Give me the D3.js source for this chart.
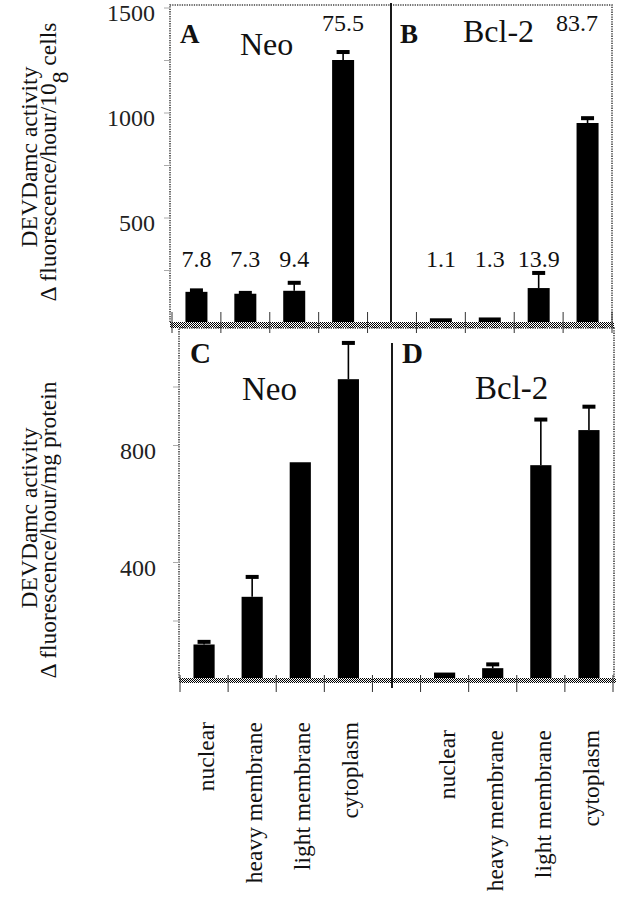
<!DOCTYPE html>
<html>
<head>
<meta charset="utf-8">
<script src="https://cdn.jsdelivr.net/npm/d3@7"></script>
<style>
  body { margin: 0; background: #fff; }
  svg { display: block; font-family: "Liberation Serif", "Times New Roman", serif; }
</style>
</head>
<body>
<svg id="chart" width="618" height="899"></svg>
<script>
// Subcellular fractions, same order in both cell lines
const fractions = ['nuclear', 'heavy membrane', 'light membrane', 'cytoplasm'];
const cellLines = ['Neo', 'Bcl-2'];

// Panels A / B: DEVDamc activity per 10^8 cells (bar top, error bar top)
const perCellNeo = [146, 137, 151, 1250];
const perCellNeoErr = [153, 141, 189, 1288];
const perCellBcl2 = [20, 24, 164, 950];
const perCellBcl2Err = [null, null, 236, 973];
// percent of total activity found in each fraction
const pctNeo = ['7.8', '7.3', '9.4', '75.5'];
const pctBcl2 = ['1.1', '1.3', '13.9', '83.7'];

// Panels C / D: DEVDamc activity per mg protein
const perProtNeo = [118, 281, 741, 1025];
const perProtNeoErr = [127, 349, null, 1149];
const perProtBcl2 = [22, 37, 731, 851];
const perProtBcl2Err = [null, 50, 887, 931];

// y ticks
const topTicks = [250, 500, 750, 1000, 1250, 1500];
const topTickLabels = [500, 1000, 1500];
const bottomTicks = [200, 400, 800, 1000];
const bottomTickLabels = [400, 800];

// 9 slots: 4 Neo fractions, an empty gap, 4 Bcl-2 fractions
const slots = [
  ...fractions.map(f => 'Neo|' + f),
  'gap',
  ...fractions.map(f => 'Bcl-2|' + f)
];

function makeRows(neo, neoErr, bcl, bclErr, neoPct, bclPct) {
  const rows = [];
  fractions.forEach((f, i) => rows.push({ key: 'Neo|' + f, value: neo[i], err: neoErr[i], pct: neoPct ? neoPct[i] : null }));
  fractions.forEach((f, i) => rows.push({ key: 'Bcl-2|' + f, value: bcl[i], err: bclErr[i], pct: bclPct ? bclPct[i] : null }));
  return rows;
}

const svg = d3.select('#chart');

// checker fill for the thick bottom edge of each panel
const pat = svg.append('defs').append('pattern')
  .attr('id', 'checker')
  .attr('width', 2).attr('height', 2)
  .attr('patternUnits', 'userSpaceOnUse');
pat.append('rect').attr('width', 2).attr('height', 2).attr('fill', '#fff');
pat.append('rect').attr('width', 1).attr('height', 1).attr('fill', '#000');
pat.append('rect').attr('x', 1).attr('y', 1).attr('width', 1).attr('height', 1).attr('fill', '#000');

function drawPanel(p) {
  const g = svg.append('g');
  const x = d3.scaleBand().domain(slots).range([p.x0, p.x1]);
  const y = d3.scaleLinear().domain([0, p.yMax]).range([p.zeroY, p.topY]);
  const barW = x.bandwidth() * p.barFrac;
  const cx = d => x(d.key) + x.bandwidth() / 2;

  // dotted frame
  g.append('path')
    .attr('d', `M${p.left},${p.bandY} V${p.top} H${p.right} V${p.bandY}`)
    .attr('fill', 'none')
    .attr('stroke', '#444')
    .attr('stroke-width', 1.6)
    .attr('stroke-dasharray', '1.3,1.1');

  // y axis (faint ticks outside the frame)
  const yAxis = d3.axisLeft(y)
    .tickValues(p.ticks)
    .tickSize(6)
    .tickPadding(p.tickPad)
    .tickFormat(d => p.tickLabels.includes(d) ? d : '');
  const ya = g.append('g').attr('transform', `translate(${p.left},0)`).call(yAxis);
  ya.select('.domain').remove();
  ya.selectAll('line').attr('stroke', '#aaa');
  ya.selectAll('text')
    .attr('font-size', 24)
    .attr('font-family', '"Liberation Serif", serif')
    .attr('fill', '#222')
    .attr('dy', p.tickDy);

  // bars
  g.selectAll(null).data(p.rows).join('rect')
    .attr('x', d => cx(d) - barW / 2)
    .attr('y', d => y(d.value))
    .attr('width', barW)
    .attr('height', d => y(0) - y(d.value))
    .attr('fill', '#000');

  // error bars
  const errRows = p.rows.filter(d => d.err != null);
  g.selectAll(null).data(errRows).join('line')
    .attr('x1', cx).attr('x2', cx)
    .attr('y1', d => y(d.value))
    .attr('y2', d => y(d.err))
    .attr('stroke', '#000')
    .attr('stroke-width', 1.6);
  g.selectAll(null).data(errRows).join('rect')
    .attr('x', d => cx(d) - 6.5)
    .attr('y', d => y(d.err) - 2)
    .attr('width', 13)
    .attr('height', 4)
    .attr('fill', '#000');

  // checkered bottom edge
  g.append('rect')
    .attr('x', p.left)
    .attr('y', p.bandY)
    .attr('width', p.right - p.left + 2)
    .attr('height', p.bandH)
    .attr('fill', 'url(#checker)');

  // x ticks at category boundaries
  const bounds = slots.map(s => x(s)).concat([p.x1]);
  g.selectAll(null).data(bounds).join('line')
    .attr('x1', d => d).attr('x2', d => d)
    .attr('y1', p.xTickTop).attr('y2', p.xTickBottom)
    .attr('stroke', '#333')
    .attr('stroke-width', 1);

  // divider between the two cell lines
  g.append('line')
    .attr('x1', p.divX).attr('x2', p.divX)
    .attr('y1', p.divTop).attr('y2', p.divBottom)
    .attr('stroke', '#000')
    .attr('stroke-width', 1.8);

  // percent labels (top panel only)
  if (p.pctRows) {
    g.selectAll(null).data(p.rows.filter(d => d.pct)).join('text')
      .attr('x', d => Math.min(cx(d), p.right - 35))
      .attr('y', d => d.value > 500 ? p.pctHighY : p.pctLowY)
      .attr('text-anchor', 'middle')
      .attr('font-size', 24)
      .attr('fill', '#111')
      .text(d => d.pct);
  }

  // panel letters and cell line names
  g.selectAll(null).data(p.titles).join('text')
    .attr('x', d => d.x)
    .attr('y', d => d.y)
    .attr('font-size', d => d.size)
    .attr('font-weight', d => d.bold ? 'bold' : 'normal')
    .attr('fill', '#111')
    .text(d => d.text);

  return x;
}

// A / B
drawPanel({
  rows: makeRows(perCellNeo, perCellNeoErr, perCellBcl2, perCellBcl2Err, pctNeo, pctBcl2),
  yMax: 1500, zeroY: 322.5, topY: 7.5,
  x0: 172, x1: 612, barFrac: 0.45,
  left: 170, right: 612, top: 5, bandY: 322, bandH: 6,
  ticks: topTicks, tickLabels: topTickLabels, tickPad: 9, tickDy: '0.55em',
  xTickTop: 312, xTickBottom: 333,
  divX: 391, divTop: 3, divBottom: 322,
  pctRows: true, pctLowY: 267, pctHighY: 31,
  titles: [
    { text: 'A', x: 180, y: 43, size: 27, bold: true },
    { text: cellLines[0], x: 240, y: 55, size: 32 },
    { text: 'B', x: 400, y: 43, size: 27, bold: true },
    { text: cellLines[1], x: 463, y: 42, size: 32 }
  ]
});

// C / D
const xBottom = drawPanel({
  rows: makeRows(perProtNeo, perProtNeoErr, perProtBcl2, perProtBcl2Err),
  yMax: 1200, zeroY: 679, topY: 328,
  x0: 180, x1: 613, barFrac: 0.44,
  left: 179, right: 614, top: 328, bandY: 678, bandH: 5,
  ticks: bottomTicks, tickLabels: bottomTickLabels, tickPad: 17, tickDy: '0.55em',
  xTickTop: 675, xTickBottom: 692,
  divX: 392, divTop: 343, divBottom: 688,
  pctRows: false,
  titles: [
    { text: 'C', x: 190, y: 363, size: 29, bold: true },
    { text: cellLines[0], x: 242, y: 400, size: 33 },
    { text: 'D', x: 402, y: 363, size: 29, bold: true },
    { text: cellLines[1], x: 475, y: 399, size: 33 }
  ]
});

// rotated fraction names under the lower panel
svg.append('g').selectAll(null)
  .data(slots.filter(s => s !== 'gap'))
  .join('text')
  .attr('transform', s => {
    const cxs = xBottom(s) + xBottom.bandwidth() / 2 + 3;
    const top = s.startsWith('Neo') ? 722 : 730;
    return `translate(${cxs},${top}) rotate(-90)`;
  })
  .attr('dy', '0.3em')
  .attr('text-anchor', 'end')
  .attr('font-size', 23.5)
  .attr('fill', '#111')
  .text(s => s.split('|')[1]);

// y axis titles
const titleTop = svg.append('g').attr('font-size', 23.5).attr('fill', '#111').attr('text-anchor', 'middle');
titleTop.append('text')
  .attr('transform', 'translate(37,157) rotate(-90)')
  .text('DEVDamc activity');
const t2 = titleTop.append('text')
  .attr('transform', 'translate(56,162) rotate(-90)');
t2.append('tspan').text('\u0394 fluorescence/hour/10');
t2.append('tspan').attr('dy', 12).text('8');
t2.append('tspan').attr('dy', -12).text(' cells');

const titleBottom = svg.append('g').attr('font-size', 23.5).attr('fill', '#111').attr('text-anchor', 'middle');
titleBottom.append('text')
  .attr('transform', 'translate(37,518) rotate(-90)')
  .text('DEVDamc activity');
titleBottom.append('text')
  .attr('transform', 'translate(56,530) rotate(-90)')
  .text('\u0394 fluorescence/hour/mg protein');
</script>
</body>
</html>
